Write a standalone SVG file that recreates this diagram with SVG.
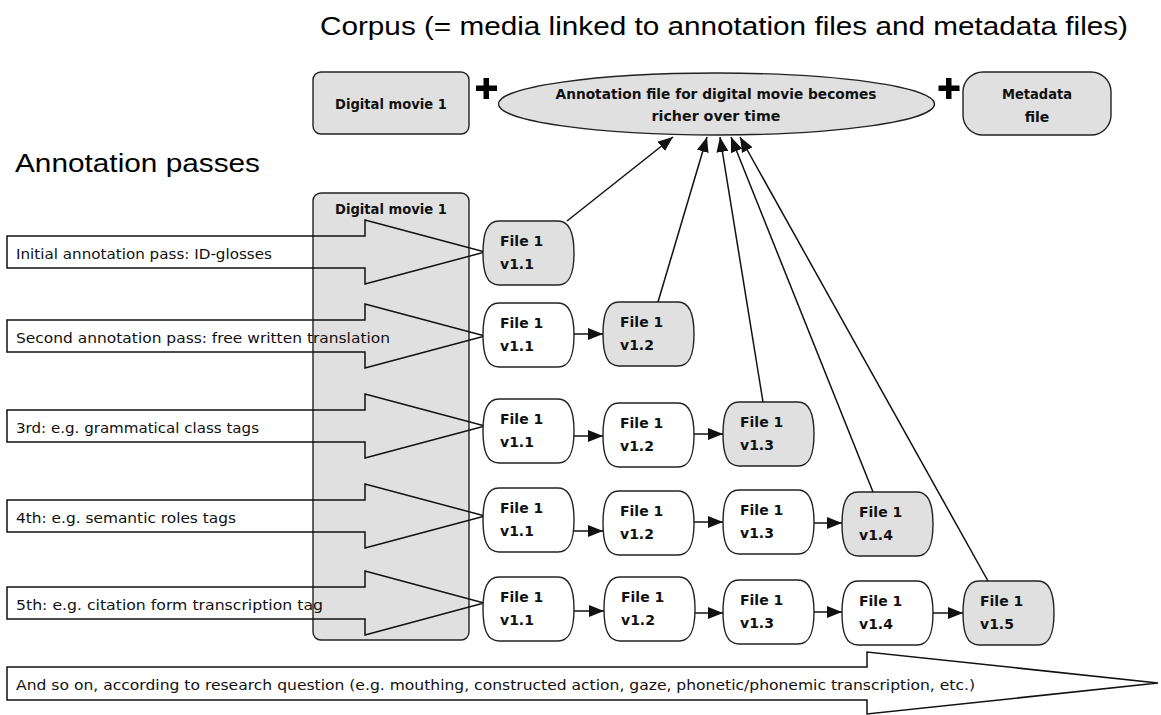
<svg xmlns="http://www.w3.org/2000/svg" xmlns:xlink="http://www.w3.org/1999/xlink" width="1161" height="715" viewBox="0 0 1161 715">
<style>
.title{font-family:"Liberation Sans",Arial,sans-serif;font-size:26px;fill:#000}
.b{font-family:"DejaVu Sans",Verdana,sans-serif;font-weight:bold;font-size:14px;fill:#111}
.nt{font-family:"DejaVu Sans",Verdana,sans-serif;font-weight:bold;font-size:14px;fill:#111}
.lab{font-family:"DejaVu Sans",Verdana,sans-serif;font-size:14.5px;fill:#111}
.gray{fill:#e0e0e0;stroke:#222;stroke-width:1.4}
.white{fill:#fff;stroke:#222;stroke-width:1.4}
.big{fill:none;stroke:#111;stroke-width:1.5}
.conn{stroke:#111;stroke-width:1.5;fill:none}
</style>
<defs>
<path id="nodeShape" d="M16,0 H75 C87,0 91,12 91,32 C91,52 87,64 75,64 H16 C4,64 0,52 0,32 C0,12 4,0 16,0 Z"/>
<marker id="ah" markerWidth="15" markerHeight="12" refX="15" refY="6" orient="auto" markerUnits="userSpaceOnUse">
<path d="M0,0 L15,6 L0,12 Z" fill="#111"/>
</marker>
</defs>
<rect width="1161" height="715" fill="#fff"/>

<text class="title" x="320" y="35" textLength="808" lengthAdjust="spacingAndGlyphs">Corpus (= media linked to annotation files and metadata files)</text>
<text class="title" x="15" y="172" textLength="245" lengthAdjust="spacingAndGlyphs">Annotation passes</text>

<g id="movie-top">
<rect class="gray" x="313" y="72" width="156" height="62" rx="8"/>
<text class="b" x="391" y="109" text-anchor="middle" textLength="112" lengthAdjust="spacingAndGlyphs">Digital movie 1</text>
</g>
<g id="plus1"><rect x="476" y="85.5" width="21" height="5.5" fill="#000"/><rect x="483.5" y="78" width="5.5" height="21" fill="#000"/></g>
<g id="annotation-file">
<ellipse class="gray" cx="716.5" cy="104" rx="218" ry="31"/>
<text class="b" x="716" y="99" text-anchor="middle" textLength="321" lengthAdjust="spacingAndGlyphs">Annotation file for digital movie becomes</text>
<text class="b" x="716" y="121" text-anchor="middle" textLength="129" lengthAdjust="spacingAndGlyphs">richer over time</text>
</g>
<g id="plus2"><rect x="938.5" y="85.5" width="21" height="5.5" fill="#000"/><rect x="946" y="78" width="5.5" height="21" fill="#000"/></g>
<g id="metadata">
<rect class="gray" x="963" y="72" width="148" height="63" rx="20"/>
<text class="b" x="1037" y="99" text-anchor="middle" textLength="70" lengthAdjust="spacingAndGlyphs">Metadata</text>
<text class="b" x="1037" y="122" text-anchor="middle">file</text>
</g>

<g id="movie-tall">
<rect class="gray" x="313" y="193" width="156" height="447" rx="8"/>
<text class="b" x="391" y="214" text-anchor="middle" textLength="112" lengthAdjust="spacingAndGlyphs">Digital movie 1</text>
</g>

<g id="pass1">
<polygon class="big" points="7,236 365,236 365,220 485,252 365,284 365,268 7,268"/>
<text class="lab" x="16" y="259" textLength="256" lengthAdjust="spacingAndGlyphs">Initial annotation pass: ID-glosses</text>
</g>
<g id="pass2">
<polygon class="big" points="7,320 365,320 365,304 485,336 365,368 365,352 7,352"/>
<text class="lab" x="16" y="343" textLength="374" lengthAdjust="spacingAndGlyphs">Second annotation pass: free written translation</text>
</g>
<g id="pass3">
<polygon class="big" points="7,410 365,410 365,394 485,426 365,458 365,442 7,442"/>
<text class="lab" x="16" y="433" textLength="243" lengthAdjust="spacingAndGlyphs">3rd: e.g. grammatical class tags</text>
</g>
<g id="pass4">
<polygon class="big" points="7,500 365,500 365,484 485,516 365,548 365,532 7,532"/>
<text class="lab" x="16" y="523" textLength="220" lengthAdjust="spacingAndGlyphs">4th: e.g. semantic roles tags</text>
</g>
<g id="pass5">
<polygon class="big" points="7,587 365,587 365,571 484,603 365,635 365,619 7,619"/>
<text class="lab" x="16" y="610" textLength="307" lengthAdjust="spacingAndGlyphs">5th: e.g. citation form transcription tag</text>
</g>
<g id="pass-more">
<polygon class="big" points="7,667 867,667 867,652 1158,683 867,714 867,700 7,700" style="fill:#fff"/>
<text class="lab" x="16" y="690" textLength="959" lengthAdjust="spacingAndGlyphs">And so on, according to research question (e.g. mouthing, constructed action, gaze, phonetic/phonemic transcription, etc.)</text>
</g>

<g id="r1-v11"><use href="#nodeShape" x="483" y="221" class="gray"/><text class="nt" x="500" y="246">File 1</text><text class="nt" x="500" y="269">v1.1</text></g>

<g id="r2-v11"><use href="#nodeShape" x="483" y="303" class="white"/><text class="nt" x="500" y="328">File 1</text><text class="nt" x="500" y="351">v1.1</text></g>
<g id="r2-v12"><use href="#nodeShape" x="603" y="302" class="gray"/><text class="nt" x="620" y="327">File 1</text><text class="nt" x="620" y="350">v1.2</text></g>

<g id="r3-v11"><use href="#nodeShape" x="483" y="399" class="white"/><text class="nt" x="500" y="424">File 1</text><text class="nt" x="500" y="447">v1.1</text></g>
<g id="r3-v12"><use href="#nodeShape" x="603" y="403" class="white"/><text class="nt" x="620" y="428">File 1</text><text class="nt" x="620" y="451">v1.2</text></g>
<g id="r3-v13"><use href="#nodeShape" x="723" y="402" class="gray"/><text class="nt" x="740" y="427">File 1</text><text class="nt" x="740" y="450">v1.3</text></g>

<g id="r4-v11"><use href="#nodeShape" x="483" y="488" class="white"/><text class="nt" x="500" y="513">File 1</text><text class="nt" x="500" y="536">v1.1</text></g>
<g id="r4-v12"><use href="#nodeShape" x="603" y="491" class="white"/><text class="nt" x="620" y="516">File 1</text><text class="nt" x="620" y="539">v1.2</text></g>
<g id="r4-v13"><use href="#nodeShape" x="723" y="490" class="white"/><text class="nt" x="740" y="515">File 1</text><text class="nt" x="740" y="538">v1.3</text></g>
<g id="r4-v14"><use href="#nodeShape" x="842" y="492" class="gray"/><text class="nt" x="859" y="517">File 1</text><text class="nt" x="859" y="540">v1.4</text></g>

<g id="r5-v11"><use href="#nodeShape" x="483" y="577" class="white"/><text class="nt" x="500" y="602">File 1</text><text class="nt" x="500" y="625">v1.1</text></g>
<g id="r5-v12"><use href="#nodeShape" x="604" y="577" class="white"/><text class="nt" x="621" y="602">File 1</text><text class="nt" x="621" y="625">v1.2</text></g>
<g id="r5-v13"><use href="#nodeShape" x="723" y="580" class="white"/><text class="nt" x="740" y="605">File 1</text><text class="nt" x="740" y="628">v1.3</text></g>
<g id="r5-v14"><use href="#nodeShape" x="842" y="581" class="white"/><text class="nt" x="859" y="606">File 1</text><text class="nt" x="859" y="629">v1.4</text></g>
<g id="r5-v15"><use href="#nodeShape" x="963" y="581" class="gray"/><text class="nt" x="980" y="606">File 1</text><text class="nt" x="980" y="629">v1.5</text></g>

<g id="connectors">
<line class="conn" x1="574" y1="334" x2="603" y2="334" marker-end="url(#ah)"/>
<line class="conn" x1="574" y1="436" x2="603" y2="436" marker-end="url(#ah)"/>
<line class="conn" x1="694" y1="434" x2="723" y2="434" marker-end="url(#ah)"/>
<line class="conn" x1="574" y1="531" x2="603" y2="531" marker-end="url(#ah)"/>
<line class="conn" x1="694" y1="522" x2="723" y2="522" marker-end="url(#ah)"/>
<line class="conn" x1="814" y1="523" x2="842" y2="523" marker-end="url(#ah)"/>
<line class="conn" x1="574" y1="611" x2="604" y2="611" marker-end="url(#ah)"/>
<line class="conn" x1="695" y1="613" x2="723" y2="613" marker-end="url(#ah)"/>
<line class="conn" x1="814" y1="612" x2="842" y2="612" marker-end="url(#ah)"/>
<line class="conn" x1="933" y1="613" x2="963" y2="613" marker-end="url(#ah)"/>
<line class="conn" x1="567" y1="221" x2="673" y2="137" marker-end="url(#ah)"/>
<line class="conn" x1="658" y1="302" x2="707" y2="137" marker-end="url(#ah)"/>
<line class="conn" x1="763" y1="402" x2="720" y2="137" marker-end="url(#ah)"/>
<line class="conn" x1="873" y1="492" x2="731" y2="137" marker-end="url(#ah)"/>
<line class="conn" x1="988" y1="581" x2="740" y2="137" marker-end="url(#ah)"/>
</g>
</svg>
